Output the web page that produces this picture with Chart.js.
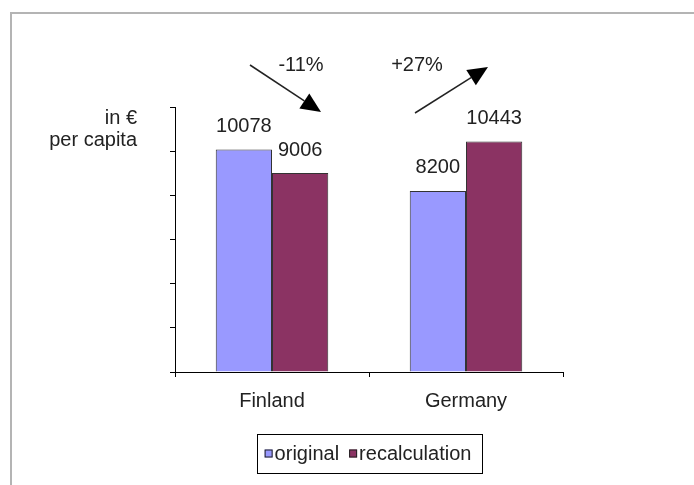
<!DOCTYPE html>
<html>
<head>
<meta charset="utf-8">
<script src="https://cdn.jsdelivr.net/npm/chart.js@4/dist/chart.umd.min.js"></script>
<style>
  html, body { margin: 0; padding: 0; background: #fff; }
  canvas { display: block; }
</style>
</head>
<body>
<canvas id="c" width="694" height="485"></canvas>
<script>
const countries = ["Finland", "Germany"];
const seriesNames = ["original", "recalculation"];
const original = [10078, 8200];
const recalculation = [9006, 10443];
const changes = ["-11%", "+27%"];
const unitLines = ["in €", "per capita"];

const FONT = "\"Liberation Sans\", Arial, sans-serif";
const colors = ["#9999ff", "#8b3363"];
const ink = "#222";

// frame, axis unit, arrows, value labels and the boxed legend
const extras = {
  id: "extras",
  beforeDraw(chart) {
    const ctx = chart.ctx;
    ctx.save();
    ctx.strokeStyle = "#b4b4b4";
    ctx.lineWidth = 2;
    ctx.beginPath();
    ctx.moveTo(11, 485);
    ctx.lineTo(11, 13);
    ctx.lineTo(694, 13);
    ctx.stroke();
    ctx.restore();
  },
  afterDatasetsDraw(chart) {
    const ctx = chart.ctx;
    const area = chart.chartArea;
    ctx.save();
    ctx.font = "20px " + FONT;
    ctx.fillStyle = ink;
    ctx.textAlign = "center";
    ctx.textBaseline = "middle";
    chart.data.datasets.forEach((ds, i) => {
      chart.getDatasetMeta(i).data.forEach((bar, j) => {
        ctx.fillText(String(ds.data[j]), bar.x, bar.y - 23);
      });
    });

    // unit text left of the axis
    ctx.textAlign = "right";
    ctx.fillText(unitLines[0], area.left - 38, 118);
    ctx.fillText(unitLines[1], area.left - 38, 140);

    // change arrows
    const arrow = (x1, y1, x2, y2) => {
      const dx = x2 - x1, dy = y2 - y1;
      const len = Math.hypot(dx, dy);
      const ux = dx / len, uy = dy / len;
      const bx = x2 - ux * 20, by = y2 - uy * 20;
      ctx.strokeStyle = ink;
      ctx.lineWidth = 1.5;
      ctx.beginPath();
      ctx.moveTo(x1, y1);
      ctx.lineTo(bx, by);
      ctx.stroke();
      ctx.fillStyle = "#000";
      ctx.beginPath();
      ctx.moveTo(x2, y2);
      ctx.lineTo(bx - uy * 9, by + ux * 9);
      ctx.lineTo(bx + uy * 9, by - ux * 9);
      ctx.closePath();
      ctx.fill();
    };
    arrow(250, 65, 321, 112);
    arrow(415, 113, 488, 67);
    ctx.fillStyle = ink;
    ctx.textAlign = "center";
    ctx.fillText(changes[0], 301, 65);
    ctx.fillText(changes[1], 417, 65);

    // legend in a box
    ctx.font = "20px " + FONT;
    const w0 = ctx.measureText(seriesNames[0]).width;
    const w1 = ctx.measureText(seriesNames[1]).width;
    const total = 8 + 8 + 2 + w0 + 10 + 8 + 2 + w1 + 10;
    const lx = (area.left + area.right) / 2 - total / 2;
    const ly = 434, lh = 39, cy = ly + lh / 2;
    ctx.strokeStyle = "#000";
    ctx.lineWidth = 1;
    ctx.strokeRect(Math.round(lx) + 0.5, ly + 0.5, Math.round(total), lh);
    let x = lx + 8;
    [w0, w1].forEach((w, i) => {
      ctx.fillStyle = colors[i];
      ctx.fillRect(x, cy - 4, 8, 8);
      ctx.strokeStyle = ink;
      ctx.strokeRect(x + 0.5, cy - 3.5, 7, 7);
      ctx.fillStyle = ink;
      ctx.textAlign = "left";
      ctx.fillText(seriesNames[i], x + 10, cy + 1);
      x += 8 + 2 + w + 10;
    });
    ctx.restore();
  }
};

new Chart(document.getElementById("c"), {
  type: "bar",
  data: {
    labels: countries,
    datasets: [
      { label: seriesNames[0], data: original, backgroundColor: colors[0], borderColor: "#333", borderWidth: 1 },
      { label: seriesNames[1], data: recalculation, backgroundColor: colors[1], borderColor: "#333", borderWidth: 1 }
    ]
  },
  options: {
    responsive: false,
    animation: false,
    events: [],
    layout: { padding: { left: 170, right: 131, top: 107, bottom: 60 } },
    datasets: { bar: { categoryPercentage: 0.58, barPercentage: 1 } },
    plugins: { legend: { display: false }, tooltip: { enabled: false } },
    scales: {
      x: {
        grid: { drawOnChartArea: false, drawTicks: true, tickLength: 5, color: "#000" },
        border: { color: "#000", width: 1 },
        ticks: { color: ink, padding: 12, font: { family: FONT, size: 20 } }
      },
      y: {
        min: 0,
        max: 12000,
        grid: { drawOnChartArea: false, drawTicks: true, tickLength: 5, color: "#000" },
        border: { color: "#000", width: 1 },
        ticks: { display: false, stepSize: 2000 }
      }
    }
  },
  plugins: [extras]
});
</script>
</body>
</html>
